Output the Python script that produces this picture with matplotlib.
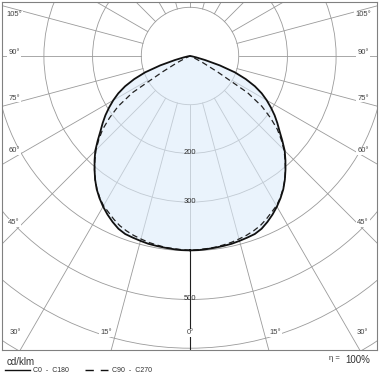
import numpy as np
import matplotlib
matplotlib.use("Agg")
import matplotlib.pyplot as plt
from matplotlib.patches import Circle
from matplotlib.lines import Line2D

plt.rcParams['font.family'] = ['Liberation Sans', 'DejaVu Sans']

# gamma angles (deg from nadir) and luminous intensity in cd/klm
angles = [0, 2.5, 5, 7.5, 10, 12.5, 15, 17.5, 20, 22.5, 25, 27.5, 30, 32.5,
          35, 37.5, 40, 42.5, 45, 47.5, 50, 52.5, 55, 57.5, 60, 62.5, 65,
          67.5, 70, 72.5, 75, 77.5, 80, 82.5, 85, 87.5, 90]
c0_c180 = [399, 399, 398, 397, 396, 395, 393, 391, 389, 384, 376, 367, 357, 346,
           334, 320, 305, 290, 275, 257, 240, 226, 212, 197, 182, 166, 147,
           124, 98, 64, 32, 13, 5, 1, 0, 0, 0]
c90_c270 = [399, 398, 397, 396, 394, 392, 389, 386, 382, 377, 370, 362, 355, 345,
            333, 320, 305, 289, 273, 254, 234, 208, 180, 140, 65, 30, 10,
            3, 0, 0, 0, 0, 0, 0, 0, 0, 0]

rings = [100, 200, 300, 400, 500, 600, 700]
ring_labels = [200, 300, 500]
spoke_step = 15
eta = "100%"

W, H = 380, 380
CX, CY = 190, 56          # pole position in pixels
SCALE = 0.487             # px per cd/klm
BOX = (2, 2, 377, 350)    # left, top, right, bottom in px


def fig_xy(px, py):
    return px / W, 1 - py / H


def data_xy(px, py):
    return (px - CX) / SCALE, (CY - py) / SCALE


def to_xy(gamma, r, side):
    g = np.radians(gamma)
    r = np.asarray(r, dtype=float)
    return side * r * np.sin(g), -r * np.cos(g)


def closed_curve(vals):
    g = np.array(angles)
    xl, yl = to_xy(g, vals, -1)
    xr, yr = to_xy(g[::-1], np.array(vals)[::-1], 1)
    return np.concatenate([xl, xr]), np.concatenate([yl, yr])


fig = plt.figure(figsize=(W / 100, H / 100), dpi=100)
l, t, r_, b = BOX
ax = fig.add_axes([l / W, (H - b) / H, (r_ - l) / W, (b - t) / H])
x0, y0 = data_xy(l, b)
x1, y1 = data_xy(r_, t)
ax.set_xlim(x0, x1)
ax.set_ylim(y0, y1)
ax.set_xticks([])
ax.set_yticks([])
for s in ax.spines.values():
    s.set_color('#808080')
    s.set_linewidth(0.8)

grid_c = '#9a9a9a'
for rr in rings:
    ax.add_patch(Circle((0, 0), rr, fill=False, ec=grid_c, lw=0.6, zorder=1))

for a in range(0, 360, spoke_step):
    g = np.radians(a)
    ax.plot([100 * np.sin(g), 1200 * np.sin(g)],
            [-100 * np.cos(g), -1200 * np.cos(g)],
            color=grid_c, lw=0.6, zorder=1)

# nadir axis below the curve
ax.plot([0, 0], [-c0_c180[0], -1200], color='#202020', lw=0.8, zorder=2)

xs, ys = closed_curve(c0_c180)
ax.fill(xs, ys, color='#dcebfa', alpha=0.6, lw=0, zorder=3)

xd, yd = closed_curve(c90_c270)
ax.plot(xd, yd, color='#222222', lw=0.9, dashes=(4.5, 2.8), zorder=4)
ax.plot(xs, ys, color='#111111', lw=1.3, zorder=5)

for rv in ring_labels:
    ax.text(0, -rv + 2, str(rv), ha='center', va='center', fontsize=5.5,
            color='#303030', zorder=6)

# angle labels
lab_c = '#404040'
side_labels = [(105, 15), (90, 53), (75, 98), (60, 151), (45, 223)]
for ang, py in side_labels:
    for px in (14, 363):
        ax.text(*data_xy(px, py), f"{ang}°", ha='center', va='center',
                fontsize=5.5, color=lab_c, zorder=6,
                bbox=dict(fc='white', ec='none', pad=0.6))
bottom_labels = [(30, 15), (15, 106), (0, 190), (15, 275), (30, 362)]
for ang, px in bottom_labels:
    ax.text(*data_xy(px, 333), f"{ang}°", ha='center', va='center',
            fontsize=5.5, color=lab_c, zorder=6,
            bbox=dict(fc='white', ec='none', pad=0.6))

# legend below the frame
fig.text(*fig_xy(7, 362), "cd/klm", ha='left', va='center', fontsize=7,
         color='#303030')
fig.add_artist(Line2D([5 / W, 30 / W], [1 - 370 / H] * 2, color='#111111',
                      lw=1.0, transform=fig.transFigure))
fig.text(*fig_xy(33, 371), "C0  -  C180", ha='left', va='center', fontsize=5,
         color='#303030')
fig.add_artist(Line2D([85 / W, 108 / W], [1 - 370 / H] * 2, color='#111111',
                      lw=1.0, dashes=(6, 5), transform=fig.transFigure))
fig.text(*fig_xy(112, 371), "C90  -  C270", ha='left', va='center',
         fontsize=5, color='#303030')

fig.text(*fig_xy(329, 358), "η =", ha='left', va='center', fontsize=5.5,
         color='#303030')
fig.text(*fig_xy(345, 360), eta, ha='left', va='center', fontsize=7,
         color='#303030')

fig.savefig('out.png', dpi=100)
